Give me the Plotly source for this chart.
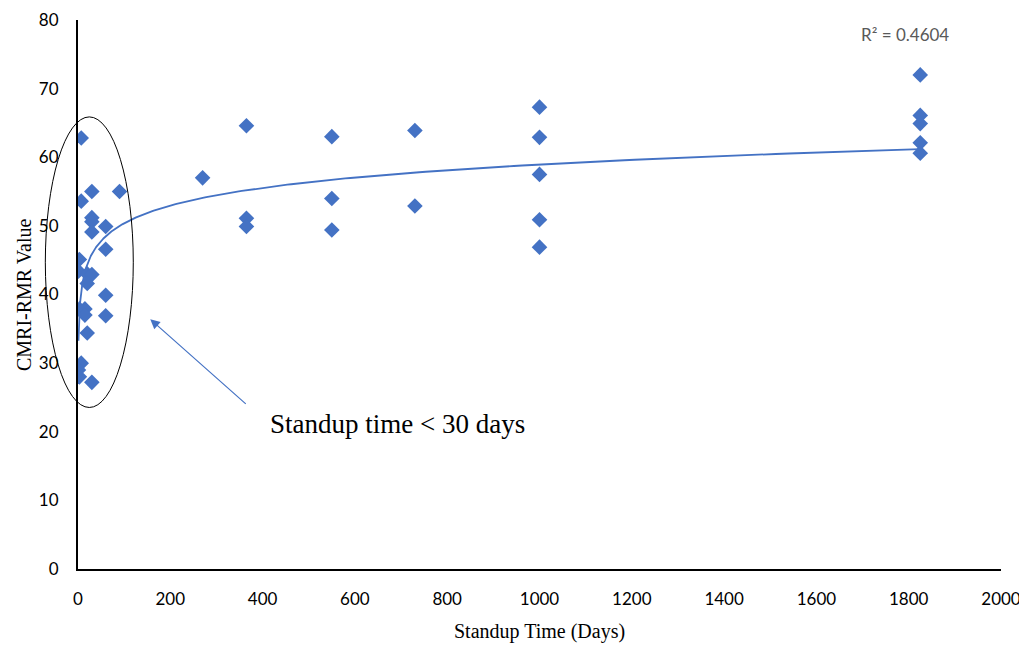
import numpy as np
import plotly.graph_objects as go

# Standup time (days) and CMRI-RMR values
standup_days = [7, 30, 90, 7, 30, 30, 60, 30, 60, 3, 1, 20, 30, 20, 60, 3, 15, 15, 60, 20, 7, 1, 3, 30,
                270, 365, 365, 365, 550, 550, 550, 730, 730,
                1000, 1000, 1000, 1000, 1000,
                1825, 1825, 1825, 1825, 1825]
rmr_values = [62.8, 55.0, 55.0, 53.6, 51.2, 50.6, 49.9, 49.1, 46.6, 45.1, 43.4, 43.0, 42.9, 41.6, 39.9, 37.9, 37.9, 37.0, 36.9, 34.4, 30.0, 29.0, 28.0, 27.2,
              57.0, 64.6, 51.1, 49.9, 63.0, 54.0, 49.4, 63.9, 52.9,
              67.3, 62.9, 57.5, 50.9, 46.9,
              72.0, 66.1, 64.9, 62.1, 60.6]
x_ticks = [0, 200, 400, 600, 800, 1000, 1200, 1400, 1600, 1800, 2000]
y_ticks = [0, 10, 20, 30, 40, 50, 60, 70, 80]
x_title = "Standup Time (Days)"
y_title = "CMRI-RMR Value"
r2_label = "R² = 0.4604"
callout_label = "Standup time < 30 days"

BLUE = "#4472C4"

# logarithmic trendline fitted to the data
xs = np.array(standup_days, dtype=float)
ys = np.array(rmr_values, dtype=float)
a, b = np.polyfit(np.log(xs), ys, 1)
trend_x = np.geomspace(xs.min(), xs.max(), 400)
trend_y = a * np.log(trend_x) + b

fig = go.Figure()
fig.add_trace(go.Scatter(x=trend_x, y=trend_y, mode="lines",
                         line=dict(color=BLUE, width=1.8), hoverinfo="skip", showlegend=False))
fig.add_trace(go.Scatter(x=standup_days, y=rmr_values, mode="markers",
                         marker=dict(symbol="diamond", size=12, color=BLUE, line=dict(width=0)),
                         showlegend=False))

tick_font = dict(family="Lato, Carlito, Calibri, sans-serif", size=17, color="#000000")
serif = "Liberation Serif, Times New Roman, serif"

fig.update_xaxes(range=[0, 2000], tickvals=x_ticks, showgrid=False, zeroline=False,
                 showline=True, linecolor="#000000", linewidth=2, ticks="",
                 ticklabelstandoff=14, tickfont=tick_font, automargin=False,
                 ticklabeloverflow="allow")
fig.update_yaxes(range=[0, 80], tickvals=y_ticks, showgrid=False, zeroline=False,
                 showline=True, linecolor="#000000", linewidth=2, ticks="",
                 ticklabelstandoff=14, tickfont=tick_font, automargin=False,
                 ticklabeloverflow="allow")

# axis titles
fig.add_annotation(xref="paper", yref="paper", x=0.5, y=-0.114, xanchor="center", yanchor="middle",
                   text=x_title, showarrow=False, font=dict(family=serif, size=20, color="#000000"))
fig.add_annotation(xref="paper", yref="paper", x=-0.059, y=0.5, xanchor="center", yanchor="middle",
                   text=y_title, textangle=-90, showarrow=False,
                   font=dict(family=serif, size=20, color="#000000"))

# ellipse around short-standup points
fig.add_shape(type="circle", xref="paper", yref="paper",
              x0=-0.0354, x1=0.0599, y0=0.2942, y1=0.8235,
              line=dict(color="#000000", width=1))

fig.add_annotation(xref="paper", yref="paper", x=0.0783, y=0.455, ax=97, ay=86,
                   axref="pixel", ayref="pixel", text="", showarrow=True,
                   arrowhead=2, arrowsize=1.6, arrowwidth=1.2, arrowcolor=BLUE)
fig.add_annotation(xref="paper", yref="paper", x=0.3465, y=0.2646, xanchor="center", yanchor="middle",
                   text=callout_label, showarrow=False,
                   font=dict(family=serif, size=27, color="#000000"))
fig.add_annotation(xref="paper", yref="paper", x=0.896, y=0.974, xanchor="center", yanchor="middle",
                   text=r2_label, showarrow=False,
                   font=dict(family="Lato, Carlito, Calibri, sans-serif", size=17, color="#595959"))

# page body has an 8px margin, so the figure is sized to fit the 1027x648 window
fig.update_layout(width=1019, height=640, paper_bgcolor="#ffffff", plot_bgcolor="#ffffff",
                  margin=dict(l=70, r=26, t=12, b=79), showlegend=False)

fig.write_html("out.html")
